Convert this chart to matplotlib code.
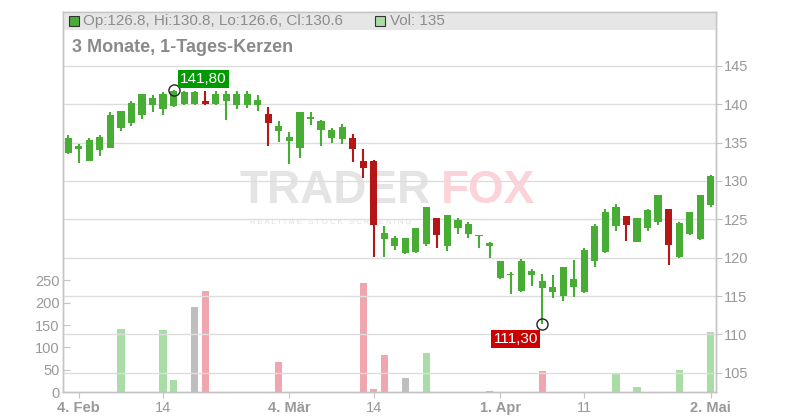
import matplotlib
matplotlib.use('Agg')
import matplotlib.pyplot as plt
from matplotlib.patches import Rectangle
import numpy as np

# ---------------- data (index = trading day, 1 Feb 2019 .. 2 May 2019) ----------------
opens = [133.6, 134.1, 132.6, 134.0, 134.3, 136.9, 137.5, 138.6, 139.9, 139.3,
         139.7, 140.0, 140.0, 140.4, 140.0, 140.4, 139.9, 139.9, 139.9, 138.7,
         136.5, 135.2, 134.3, 138.0, 136.6, 135.6, 135.5, 135.6, 132.6, 132.6,
         122.4, 121.5, 120.6, 120.7, 121.8, 125.2, 121.5, 123.9, 123.1, 122.8,
         121.5, 117.3, 117.7, 115.7, 117.7, 116.1, 115.5, 115.0, 116.2, 115.5,
         119.5, 120.7, 124.1, 125.4, 122.1, 123.9, 124.7, 126.4, 120.1, 123.1,
         122.4, 126.8]
highs = [136.0, 134.8, 135.6, 136.0, 139.0, 139.1, 140.4, 141.3, 141.2, 141.6,
         141.8, 141.7, 141.7, 141.7, 141.7, 141.7, 141.7, 141.7, 141.2, 139.6,
         137.8, 136.4, 139.0, 139.0, 137.9, 136.9, 137.4, 136.1, 134.1, 132.7,
         124.1, 122.8, 122.6, 123.9, 126.6, 125.2, 125.6, 125.2, 124.6, 123.0,
         122.0, 119.6, 118.1, 119.8, 118.5, 117.9, 117.7, 118.8, 119.7, 121.2,
         124.4, 126.3, 127.0, 125.4, 125.2, 126.3, 128.2, 126.4, 124.6, 126.0,
         128.2, 130.8]
lows = [133.5, 132.3, 132.6, 133.3, 134.3, 136.5, 137.2, 138.0, 139.0, 138.6,
        139.6, 139.9, 139.9, 139.9, 139.9, 137.9, 139.3, 139.5, 139.1, 134.6,
        135.1, 132.2, 133.0, 137.3, 134.5, 135.0, 134.8, 132.5, 130.4, 120.1,
        120.1, 121.0, 120.5, 120.6, 121.5, 121.2, 120.9, 123.1, 122.6, 121.2,
        120.0, 117.2, 115.3, 115.5, 116.3, 111.3, 114.7, 114.4, 114.9, 115.4,
        118.8, 120.6, 123.5, 122.2, 122.1, 123.5, 124.3, 119.1, 120.0, 122.9,
        122.3, 126.6]
closes = [135.6, 134.6, 135.3, 135.7, 138.6, 139.1, 140.2, 141.3, 140.8, 141.3,
          141.7, 141.6, 141.6, 140.0, 141.3, 141.3, 141.3, 141.3, 140.6, 137.5,
          137.2, 135.7, 139.0, 138.3, 137.8, 136.6, 137.0, 134.1, 131.7, 124.3,
          123.2, 122.6, 122.6, 123.8, 126.6, 122.9, 125.6, 124.9, 124.4, 123.0,
          121.9, 119.5, 117.8, 119.6, 118.2, 116.9, 116.2, 118.8, 117.2, 121.0,
          124.1, 126.0, 126.6, 124.3, 125.2, 126.2, 128.2, 121.7, 124.5, 126.0,
          128.2, 130.6]
volumes = [0, 0, 0, 0, 0, 142, 0, 0, 0, 138,
           28, 0, 191, 227, 0, 0, 0, 0, 0, 0,
           68, 0, 0, 0, 0, 0, 0, 0, 245, 7,
           84, 0, 32, 0, 88, 0, 0, 0, 0, 0,
           3, 0, 0, 0, 0, 46, 0, 0, 0, 0,
           0, 0, 42, 0, 12, 0, 0, 0, 50, 0,
           0, 135]
tick_idx = [1, 9, 21, 29, 41, 49, 61]
tick_labels = ["4. Feb", "14", "4. Mär", "14", "1. Apr", "11", "2. Mai"]
tick_bold = [True, False, True, False, True, False, True]
price_ticks = [105, 110, 115, 120, 125, 130, 135, 140, 145]
vol_ticks = [0, 50, 100, 150, 200, 250]

# ---------------- style ----------------
plt.rcParams['font.family'] = ['Liberation Sans', 'DejaVu Sans']
GREEN = '#47ad35'
RED = '#b51616'
VOL_UP = '#aadca6'
VOL_DN = '#f0a6ae'
VOL_EQ = '#bebebe'
TXT = '#999999'
GRID = '#dddddd'
FRAME = '#c4c4c4'

W, H = 800, 420
fig = plt.figure(figsize=(W / 100, H / 100), dpi=100)
L, R, T, B = 63, 716, 12, 392
ax_v = fig.add_axes([L / W, (H - B) / H, (R - L) / W, (B - T) / H])
ax_p = ax_v.twinx()

n = len(closes)
x = np.arange(n)

# volume bars (colour by close vs. previous close)
vcols = []
for i in range(n):
    prev = closes[i - 1] if i > 0 else closes[i]
    if closes[i] > prev:
        vcols.append(VOL_UP)
    elif closes[i] < prev:
        vcols.append(VOL_DN)
    else:
        vcols.append(VOL_EQ)
ax_v.bar(x, volumes, width=0.68, color=vcols, zorder=2)
ax_v.set_ylim(0, 852)
ax_v.set_yticks(vol_ticks)
ax_v.set_xlim(-0.5, n - 0.5)
ax_v.set_xticks(tick_idx)
ax_v.set_xticklabels(tick_labels)
for lab, b in zip(ax_v.get_xticklabels(), tick_bold):
    lab.set_fontweight('bold' if b else 'normal')

# candles
for i in range(n):
    o, h, l, c = opens[i], highs[i], lows[i], closes[i]
    col = GREEN if c >= o else RED
    ax_p.vlines(i, l, h, color=col, lw=1.5, zorder=3)
    body = max(abs(c - o), 0.15)
    ax_p.bar(i, body, bottom=min(o, c), width=0.68, color=col, zorder=3)
ax_p.set_ylim(102.5, 152.0)
ax_p.set_yticks(price_ticks)
ax_p.grid(True, color=GRID, lw=1, zorder=1)

for ax in (ax_v, ax_p):
    for s in ax.spines.values():
        s.set_color(FRAME)
        s.set_linewidth(1)

ax_p.tick_params(axis='y', direction='out', length=4, color=FRAME, labelcolor=TXT,
                 labelsize=10.5, pad=1.5)
ax_v.tick_params(axis='y', direction='in', length=5, color=FRAME, labelcolor=TXT,
                 labelsize=10.5, pad=2.5)
ax_v.tick_params(axis='x', direction='out', length=4, color=FRAME, labelcolor=TXT,
                 labelsize=10.5, pad=2.5)

# header band
band_h = 18 / (B - T)
ax_p.add_patch(Rectangle((0, 1 - band_h), 1, band_h, transform=ax_p.transAxes,
                         facecolor='#e6e6e6', edgecolor='none', zorder=0))

# watermark
ax_p.text(0.271, 0.497, "TRADER", transform=ax_p.transAxes, fontsize=33,
          fontweight='bold', color='#e4e4e4', ha='left', va='baseline', zorder=0.5)
ax_p.text(0.578, 0.497, "FOX", transform=ax_p.transAxes, fontsize=33,
          fontweight='bold', color='#fbd3d8', ha='left', va='baseline', zorder=0.5)
ax_p.text(0.286, 0.445, "R E A L T I M E   S T O C K   S C R E E N I N G",
          transform=ax_p.transAxes, fontsize=5.5, color='#e0e0e0', ha='left',
          va='center', zorder=0.5)

# extreme annotations
def fmt(v):
    return f"{v:.2f}".replace('.', ',')

hi_i = int(np.argmax(highs))
lo_i = int(np.argmin(lows))
ax_p.plot(hi_i, highs[hi_i], 'o', mfc='none', mec='#222222', ms=8, mew=1, zorder=6)
ax_p.plot(lo_i, lows[lo_i], 'o', mfc='none', mec='#222222', ms=8, mew=1, zorder=6)
ax_p.annotate(fmt(highs[hi_i]), (hi_i, highs[hi_i]), xytext=(4.5, 3),
              textcoords='offset points', ha='left', va='bottom', color='white',
              fontsize=11, zorder=7,
              bbox=dict(boxstyle='square,pad=0.15', fc='#009a00', ec='none'))
ax_p.annotate(fmt(lows[lo_i]), (lo_i, lows[lo_i]), xytext=(-3, -5.3),
              textcoords='offset points', ha='right', va='top', color='white',
              fontsize=11, zorder=7,
              bbox=dict(boxstyle='square,pad=0.15', fc='#cc0000', ec='none'))

# legend / title
fig.add_artist(Rectangle((69 / W, 1 - 26 / H), 10 / W, 10 / H, transform=fig.transFigure,
                         facecolor=GREEN, edgecolor='#333333', lw=0.8))
fig.text(83 / W, 1 - 21 / H,
         f"Op:{opens[-1]}, Hi:{highs[-1]}, Lo:{lows[-1]}, Cl:{closes[-1]}",
         fontsize=11, color='#8c8c8c', va='center', ha='left')
fig.add_artist(Rectangle((375 / W, 1 - 26 / H), 10 / W, 10 / H, transform=fig.transFigure,
                         facecolor=VOL_UP, edgecolor='#333333', lw=0.8))
fig.text(390 / W, 1 - 21 / H, f"Vol: {volumes[-1]}", fontsize=11, color='#8c8c8c',
         va='center', ha='left')
fig.text(72 / W, 1 - 47 / H, "3 Monate, 1-Tages-Kerzen", fontsize=13, fontweight='bold',
         color='#8a8a8a', va='center', ha='left')

fig.savefig('out.png', dpi=100)
